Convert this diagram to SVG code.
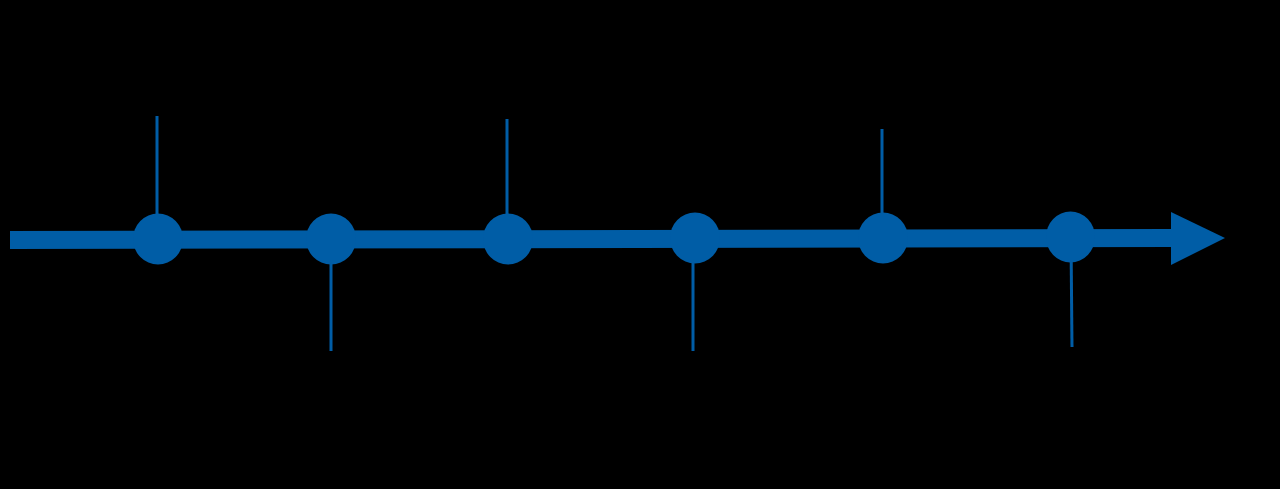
<svg xmlns="http://www.w3.org/2000/svg" width="1280" height="489" viewBox="0 0 1280 489">
<style>
.tick{stroke:#005DA6;stroke-width:3;fill:none}
.dot{fill:#005DA6}
</style>
<rect width="1280" height="489" fill="#000"/>
<g id="connectors">
<polygon class="dot" points="10,231 1172,229 1172,247 10,249"/>
<polygon class="dot" points="1171,212 1225,238 1171,265"/>
<line class="tick" x1="157" y1="116" x2="157" y2="239"/>
<line class="tick" x1="331" y1="239" x2="331" y2="351"/>
<line class="tick" x1="507" y1="119" x2="507" y2="239"/>
<line class="tick" x1="693" y1="239" x2="693" y2="351"/>
<line class="tick" x1="882" y1="129" x2="882" y2="239"/>
<line class="tick" x1="1071" y1="238" x2="1072" y2="347"/>
</g>
<g id="node1"><ellipse class="dot" cx="158" cy="239" rx="25" ry="25.5"/></g>
<g id="node2"><ellipse class="dot" cx="331" cy="239" rx="25" ry="25.5"/></g>
<g id="node3"><ellipse class="dot" cx="508" cy="239" rx="25" ry="25.5"/></g>
<g id="node4"><ellipse class="dot" cx="695" cy="238" rx="25" ry="25.5"/></g>
<g id="node5"><ellipse class="dot" cx="883" cy="238" rx="25" ry="25.5"/></g>
<g id="node6"><ellipse class="dot" cx="1070.5" cy="237" rx="24.5" ry="25.5"/></g>
</svg>
